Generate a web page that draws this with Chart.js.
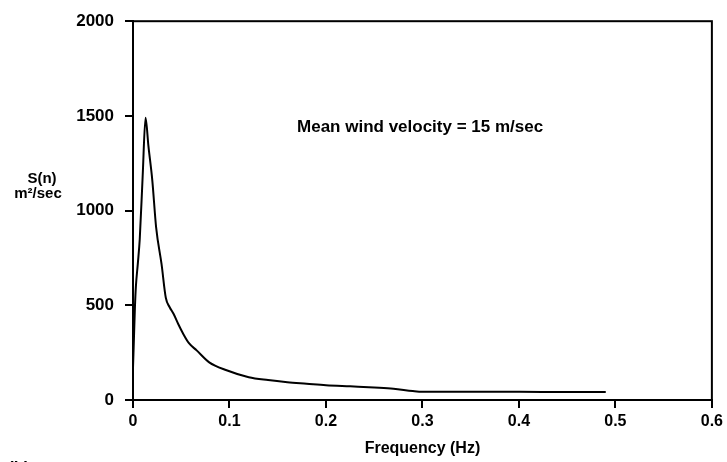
<!DOCTYPE html>
<html lang="en">

<head>
  <meta charset="UTF-8" />
  <title>Wind spectrum</title>
  <script src="https://cdn.jsdelivr.net/npm/chart.js"></script>
  <style>
    body { margin: 0; background: white; }
    #box { width: 727px; height: 462px; }
  </style>
</head>

<body>
  <div id="box"><canvas id="grafico"></canvas></div>

  <script>
    // frequency (Hz) and spectral density S(n)
    var frequencias = [0, 0.001, 0.002, 0.003, 0.005, 0.007, 0.010, 0.013, 0.016, 0.020, 0.024, 0.0296,
      0.034, 0.038, 0.042, 0.047, 0.052, 0.058, 0.066, 0.079, 0.097, 0.120, 0.140, 0.160,
      0.180, 0.200, 0.225, 0.250, 0.270, 0.290, 0.300, 0.350, 0.400, 0.450, 0.490];
    var espectro = [170, 330, 490, 600, 720, 850, 1180, 1490, 1340, 1160, 910, 717,
      540, 490, 455, 400, 350, 300, 262, 199, 157, 120, 105, 94,
      86, 78, 72, 66, 60, 47, 43, 43, 43, 42, 42];
    var ticksX = [0, 0.1, 0.2, 0.3, 0.4, 0.5, 0.6];
    var ticksY = [0, 500, 1000, 1500, 2000];
    var legenda = "Mean wind velocity = 15 m/sec";

    var fonte = "'Liberation Sans', Arial, sans-serif";

    var pontos = [];
    for (var i = 0; i < frequencias.length; i++) {
      pontos.push({ x: frequencias[i], y: espectro[i] });
    }

    // frame, y title, note and panel letter
    var extras = {
      id: "extras",
      afterDraw: function (chart) {
        var ctx = chart.ctx;
        var a = chart.chartArea;
        ctx.save();
        ctx.strokeStyle = "#000";
        ctx.lineWidth = 2;
        ctx.strokeRect(a.left, a.top, a.right - a.left, a.bottom - a.top);

        ctx.fillStyle = "#000";
        ctx.font = "bold 15px " + fonte;
        ctx.textAlign = "center";
        ctx.textBaseline = "middle";
        ctx.fillText("S(n)", 42, 179);
        ctx.fillText("m²/sec", 38, 194);

        ctx.font = "bold 17px " + fonte;
        ctx.textAlign = "left";
        var xs = chart.scales.x, ys = chart.scales.y;
        ctx.fillText(legenda, xs.getPixelForValue(0.170), ys.getPixelForValue(1440));

        ctx.fillText("(b)", 8, 468);
        ctx.restore();
      }
    };

    var chartEspectro = new Chart(grafico, {
      type: "line",
      data: {
        datasets: [{
          data: pontos,
          borderColor: "#000",
          borderWidth: 2,
          pointRadius: 0,
          cubicInterpolationMode: "monotone",
          fill: false
        }]
      },
      options: {
        responsive: true,
        maintainAspectRatio: false,
        animation: false,
        layout: { padding: { left: 0, right: 12, top: 18, bottom: 0 } },
        plugins: { legend: { display: false }, tooltip: { enabled: false } },
        scales: {
          x: {
            type: "linear",
            min: 0,
            max: 0.6,
            afterBuildTicks: function (s) {
              s.ticks = ticksX.map(function (v) { return { value: v }; });
            },
            afterFit: function (s) { s.height = 62; },
            grid: { drawOnChartArea: false, tickLength: 8, color: "#000", lineWidth: 2 },
            border: { color: "#000", width: 2 },
            ticks: {
              color: "#000",
              padding: 4,
              font: { family: fonte, size: 16, weight: "bold" },
              callback: function (v) { return String(v); }
            },
            title: {
              display: true,
              text: "Frequency (Hz)",
              color: "#000",
              padding: { top: 4 },
              font: { family: fonte, size: 16, weight: "bold" }
            }
          },
          y: {
            min: 0,
            max: 2000,
            afterBuildTicks: function (s) {
              s.ticks = ticksY.map(function (v) { return { value: v }; });
            },
            afterFit: function (s) { s.width = 133; },
            grid: { drawOnChartArea: false, tickLength: 8, color: "#000", lineWidth: 2 },
            border: { color: "#000", width: 2 },
            ticks: {
              color: "#000",
              padding: 11,
              font: { family: fonte, size: 17, weight: "bold" },
              callback: function (v) { return String(v); }
            }
          }
        }
      },
      plugins: [extras]
    });
  </script>
</body>

</html>
